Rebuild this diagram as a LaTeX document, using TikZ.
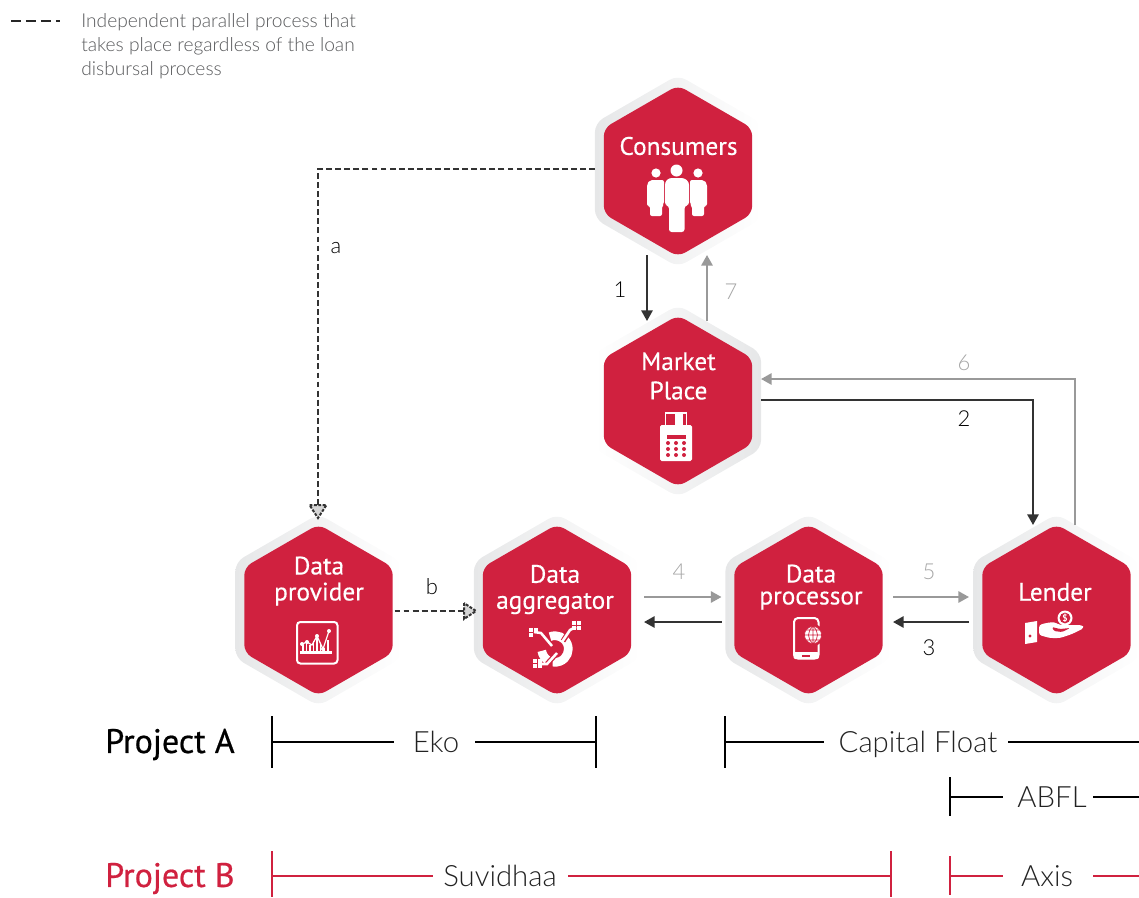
\documentclass[tikz,border=0pt]{standalone}
\usepackage{fontspec}
\setmainfont{PT Sans}
\newfontfamily\hexf[FakeBold=0.35]{PT Sans}
\newfontfamily\projf[FakeBold=0.6]{PT Sans}
\newfontfamily\lightf{Lato Light}
\usetikzlibrary{shapes.geometric,arrows.meta,calc}
\definecolor{hexred}{HTML}{D0213F}
\definecolor{ringg}{HTML}{E6E7E8}
\definecolor{darkarrow}{HTML}{333333}
\definecolor{grayarrow}{HTML}{999999}
\definecolor{graytext}{HTML}{A6A6A6}
\definecolor{legendtext}{HTML}{58595B}
\definecolor{bodytext}{HTML}{222222}
\tikzset{
  x=0.75pt,y=-0.75pt,
  hexcore/.style={regular polygon,regular polygon sides=6,shape border rotate=30,minimum size=128.5pt,inner sep=0pt,outer sep=0pt,fill=hexred,rounded corners=6pt},
  hexringL/.style={regular polygon,regular polygon sides=6,shape border rotate=30,minimum size=144pt,inner sep=0pt,outer sep=0pt,left color=ringg,right color=white,rounded corners=7pt},
  hexringR/.style={hexringL,left color=white,right color=ringg},
  hextext/.style={text=white,font=\hexf\fontsize{19}{22}\selectfont,align=center,inner sep=0pt},
  steplabel/.style={font=\lightf\fontsize{16.5}{20}\selectfont,text=black,inner sep=0pt},
  steplabelg/.style={steplabel,text=graytext},
  arrowdark/.style={draw=darkarrow,line width=1.5pt,-{Triangle[length=8pt,width=8.5pt]}},
  arrowgray/.style={draw=grayarrow,line width=1.5pt,-{Triangle[length=8pt,width=8.5pt]}},
  dashline/.style={draw=darkarrow,line width=1.7pt,dash pattern=on 4.4pt off 2.4pt},
  dashtip/.style={fill=grayarrow!40,draw=darkarrow,line width=1.5pt,dash pattern=on 2.2pt off 1.1pt},
  barA/.style={draw=black,line width=1.5pt},
  barB/.style={draw=hexred,line width=1.5pt},
  bartext/.style={font=\lightf\fontsize{22}{26}\selectfont,text=bodytext,inner sep=0pt},
  projtext/.style={font=\projf\fontsize{25.5}{30}\selectfont,inner sep=0pt,anchor=west},
  icon/.style={fill=white,draw=none},
}
\begin{document}
\begin{tikzpicture}
\useasboundingbox (0,0) rectangle (1139,897);
% rings
\node[hexringL] (consR) at (678,171) {};
\node[hexringR] (markR) at (678,401) {};
\node[hexringL] (provR) at (318.5,610) {};
\node[hexringL] (aggrR) at (557,610) {};
\node[hexringL] (procR) at (808.5,610) {};
\node[hexringL] (lendR) at (1056.5,610) {};
% hexagons
\node[hexcore] (cons) at (678,171) {};
\node[hexcore] (mark) at (678,401) {};
\node[hexcore] (prov) at (318.5,610) {};
\node[hexcore] (aggr) at (557,610) {};
\node[hexcore] (proc) at (808.5,610) {};
\node[hexcore] (lend) at (1056.5,610) {};
% hexagon texts
\node[hextext] (consT) at (678.5,146) {Consumers};
\node[hextext] (markT) at (678.5,376) {Market\\[0pt]Place};
\node[hextext] (provT) at (319,581) {Data\\[-2.5pt]provider};
\node[hextext] (aggrT) at (555,589.5) {Data\\[-2.5pt]aggregator};
\node[hextext] (procT) at (811,587) {Data\\[-5.5pt]processor};
\node[hextext] (lendT) at (1055,592) {Lender};
% consumers icon
\fill[icon] (676.5,170.5) circle[radius=6];
\fill[icon] (656,173) circle[radius=4.6];
\fill[icon] (698,173) circle[radius=4.6];
\fill[icon,rounded corners=2pt] (665,182) -- (669,178) -- (684,178) -- (689,182) -- (689,205) -- (684.5,206) -- (684.5,232) -- (669,232) -- (669,206) -- (665,205) -- cycle;
\fill[icon,rounded corners=1.5pt] (647,184) -- (650,180) -- (664,180) -- (664,204) -- (662,206) -- (662,216) -- (650,216) -- (650,206) -- (647,206) -- cycle;
\fill[icon,rounded corners=1.5pt] (707,184) -- (704,180) -- (690,180) -- (690,204) -- (692,206) -- (692,216) -- (704,216) -- (704,206) -- (707,206) -- cycle;
% market icon
\draw[white,line width=1.3pt] (665.5,426) -- (665.5,413) -- (686.5,413) -- (686.5,426);
\fill[icon] (675,414) rectangle (683,426);
\fill[icon,rounded corners=1.2pt] (660,425) rectangle (692,461);
\fill[hexred] (667,435) rectangle (686,438.5);
\foreach \yy in {443,449,455}{\foreach \xx in {668,676,684}{\fill[hexred] (\xx,\yy) circle[radius=2];}}
% provider icon
\draw[white,line width=1.5pt,rounded corners=2.5pt] (297,622) rectangle (337.5,663.5);
\fill[icon] (300,651) rectangle (332,653.5);
\foreach \xx/\yy in {303/645,306.5/643,310/645,313.5/641,317/637,320.5/644,324/648,328/640}{\draw[white,line width=1.1pt] (\xx,652) -- (\xx,\yy);}
\draw[white,line width=0.9pt] (302,644) -- (307,642) -- (312,645) -- (317,636) -- (323,649) -- (329,631);
\foreach \xx/\yy in {302/644,307/642,317/636,323/649,329/631}{\fill[icon] (\xx,\yy) circle[radius=2];}
% aggregator icon
\draw[white,line width=6.5pt] (555,649) ++(112:10pt) arc[start angle=112,end angle=-100,radius=10pt];
\draw[white,line width=6.5pt] (555,649) ++(188:10pt) arc[start angle=188,end angle=238,radius=10pt];
\draw[hexred,line width=3.8pt] (541,633) -- (553,647);
\draw[hexred,line width=3.8pt] (547,664) -- (557,653);
\draw[hexred,line width=3.8pt] (570,630) -- (563,641);
\draw[white,line width=1.9pt] (534,632) -- (541,633) -- (552,646);
\draw[white,line width=1.9pt] (576,627) -- (570,630) -- (562,642);
\draw[white,line width=1.9pt] (538,664) -- (547,664) -- (557,653);
\foreach \xx/\yy in {531/630,536/630,531/635,574/628,579/628,579/623,574/623,535/666,540/661,540/666,535/661}{\fill[icon] (\xx-1.8,\yy-1.8) rectangle (\xx+1.8,\yy+1.8);}
% processor icon
\draw[white,line width=1.5pt,rounded corners=3pt] (794,618) rectangle (818.5,658.5);
\fill[icon,rounded corners=1.5pt] (793.5,652) rectangle (819,659);
\fill[hexred] (802,655) rectangle (810,657);
\fill[hexred] (813,635) circle[radius=11];
\fill[icon] (813,635) circle[radius=8.6];
\draw[hexred,line width=0.5pt] (813,635) circle[radius=8.6] (804.5,635) -- (821.5,635) (813,626.4) -- (813,643.6) (806,630) -- (820,630) (806,640) -- (820,640);
\draw[hexred,line width=0.5pt] (813,626.4) .. controls (807,631) and (807,639) .. (813,643.6);
\draw[hexred,line width=0.5pt] (813,626.4) .. controls (819,631) and (819,639) .. (813,643.6);
% lender icon
\fill[icon] (1025,623) -- (1037,621) -- (1037,642) -- (1025,644) -- cycle;
\fill[hexred] (1030,636) circle[radius=1.6];
\fill[icon,rounded corners=2pt] (1039,625) -- (1046,623) -- (1054,622) -- (1060,625) -- (1070,625) -- (1082,625) -- (1084,628) -- (1072,634) -- (1060,638) -- (1050,638) -- (1039,635) -- cycle;
\fill[hexred,rounded corners=1pt] (1052,627) -- (1060,629) -- (1070,628) -- (1062,632) -- (1054,631) -- cycle;
\fill[icon] (1065,618) circle[radius=7.5];
\fill[hexred] (1065,618) circle[radius=5.4];
\node[font=\bfseries\fontsize{7}{7}\selectfont,text=white,inner sep=0pt] (coinS) at (1065,618) {\$};
% named free ends
\coordinate (consW) at ($(cons)+(-83,-2)$);
\coordinate (turnA) at ($(prov)+(-0.5,-441)$);
\coordinate (provN) at ($(prov)+(-0.5,-103)$);
\coordinate (provE) at ($(prov)+(76,1)$);
\coordinate (aggrW) at ($(aggr)+(-91,1)$);
% dashed connectors
\draw[dashline] (consW) -- (turnA) -- (provN);
\draw[dashtip] ($(provN)+(-8.5,-2)$) -- ($(provN)+(8.5,-2)$) -- ($(provN)+(0,11)$) -- cycle;
\draw[dashline] (provE) -- (aggrW);
\draw[dashtip] ($(aggrW)+(-2,-8)$) -- ($(aggrW)+(-2,8)$) -- ($(aggrW)+(10,0)$) -- cycle;
% solid connectors
\draw[arrowdark] ($(cons)+(-31,84)$) -- ($(mark)+(-31,-80)$);
\draw[arrowgray] ($(mark)+(29,-80)$) -- ($(cons)+(29,84)$);
\draw[arrowgray] ($(lend)+(18.5,-85)$) |- ($(mark)+(83,-22)$);
\draw[arrowdark] ($(mark)+(83,-1)$) -| ($(lend)+(-23.5,-85)$);
\draw[arrowgray] ($(aggr)+(87,-13)$) -- ($(proc)+(-87,-13)$);
\draw[arrowdark] ($(proc)+(-87,12)$) -- ($(aggr)+(87,12)$);
\draw[arrowgray] ($(proc)+(84.5,-13)$) -- ($(lend)+(-87.5,-13)$);
\draw[arrowdark] ($(lend)+(-87.5,12)$) -- ($(proc)+(84.5,12)$);
% step labels
\node[steplabel] (la) at (336,248.5) {a};
\node[steplabel] (lb) at (432,587) {b};
\node[steplabel] (l1) at (620,290) {1};
\node[steplabelg] (l7) at (731,292) {7};
\node[steplabelg] (l6) at (964,362.5) {6};
\node[steplabel] (l2) at (964,418.5) {2};
\node[steplabelg] (l4) at (679,571.5) {4};
\node[steplabelg] (l5) at (929,571.5) {5};
\node[steplabel] (l3) at (929,648) {3};
% legend
\coordinate (legA) at (11,21);
\coordinate (legB) at (60,21);
\draw[draw=black!85,line width=2.1pt,dash pattern=on 7.5pt off 3.7pt] (legA) -- (legB);
\node[anchor=north west,align=left,inner sep=0pt,text=legendtext,font=\lightf\fontsize{14.4}{18}\selectfont] (legT) at (81,13.5) {Independent parallel process that\\takes place regardless of the loan\\disbursal process};
% project rows
\node[projtext,text=black] (pa) at (105,744.5) {Project A};
\node[projtext,text=hexred] (pb) at (105,878.5) {Project B};
\node[bartext] (eko) at (436,742) {Eko};
\node[bartext] (cap) at (918,744) {Capital Float};
\node[bartext] (abfl) at (1052,797) {ABFL};
\node[bartext] (suv) at (500,876) {Suvidhaa};
\node[bartext] (axis) at (1047,876) {Axis};
\coordinate (ekoL) at (272,742); \coordinate (ekoR) at (596,742);
\coordinate (capL) at (725,742); \coordinate (capR) at (1139,742);
\coordinate (abfL) at (950,797); \coordinate (abfR) at (1139,797);
\coordinate (suvL) at (272,876); \coordinate (suvR) at (891,876);
\coordinate (axiL) at (950,876); \coordinate (axiR) at (1139,876);
\draw[barA] (ekoL) -- (394,742) (475,742) -- (ekoR);
\draw[barA] ($(ekoL)+(0,-26)$) -- ($(ekoL)+(0,26)$) ($(ekoR)+(0,-26)$) -- ($(ekoR)+(0,26)$);
\draw[barA] (capL) -- (824,742) (1008,742) -- (capR);
\draw[barA] ($(capL)+(0,-26)$) -- ($(capL)+(0,26)$);
\draw[barA] (abfL) -- (1003,797) (1093,797) -- (abfR);
\draw[barA] ($(abfL)+(0,-20)$) -- ($(abfL)+(0,19)$);
\draw[barB] (suvL) -- (433,876) (568,876) -- (suvR);
\draw[barB] ($(suvL)+(0,-25)$) -- ($(suvL)+(0,21)$) ($(suvR)+(0,-25)$) -- ($(suvR)+(0,21)$);
\draw[barB] (axiL) -- (1003,876) (1093,876) -- (axiR);
\draw[barB] ($(axiL)+(0,-20)$) -- ($(axiL)+(0,19)$);
\end{tikzpicture}
\end{document}
